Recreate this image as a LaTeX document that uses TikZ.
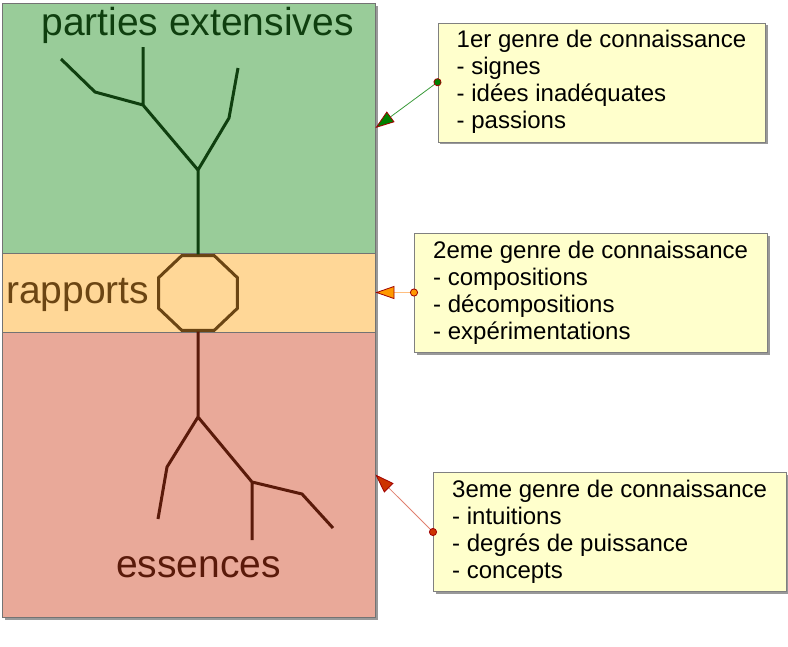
\documentclass[tikz,border=0pt]{standalone}
\usepackage{fontspec}
\setmainfont{Liberation Sans}
\usetikzlibrary{shapes,shadows,arrows.meta}

\definecolor{vertfond}{HTML}{99CC99}
\definecolor{vertfonce}{HTML}{0F3F0F}
\definecolor{orfond}{HTML}{FFD797}
\definecolor{brun}{HTML}{6B4513}
\definecolor{rougefond}{HTML}{E9A999}
\definecolor{rougefonce}{HTML}{5A1A0A}
\definecolor{notefond}{HTML}{FFFFCC}
\definecolor{pointe}{HTML}{A00000}
\definecolor{vertvif}{HTML}{008000}
\definecolor{vertfil}{HTML}{3A9A3A}
\definecolor{orvif}{HTML}{FF9900}
\definecolor{orfil}{HTML}{FFBF80}
\definecolor{rougevif}{HTML}{CC3300}
\definecolor{rougefil}{HTML}{E08070}

\begin{document}
\begin{tikzpicture}[x=1pt,y=-1pt]
\tikzstyle{ombre}=[drop shadow={shadow xshift=2.5pt, shadow yshift=-2.5pt, fill=black!40, opacity=1}]
\tikzstyle{zone}=[draw=black!55, line width=0.8pt, minimum width=373pt, inner sep=0pt, ombre]
\tikzstyle{titre}=[font=\fontsize{39}{44}\selectfont, inner sep=0pt, anchor=base]
\tikzstyle{branche}=[line width=3pt]
\tikzstyle{note}=[draw=black!50, fill=notefond, align=left, anchor=west, inner xsep=19pt, minimum height=119pt, font=\fontsize{24}{27}\selectfont, ombre]
\tikzstyle{renvoi}=[line width=0.8pt, shorten <=-4pt]

\useasboundingbox (0,0) rectangle (788,646);

\node[zone, fill=vertfond, minimum height=250pt] (ext) at (188.5,128) {};
\node[zone, fill=orfond, minimum height=79pt] (rap) at (188.5,292.5) {};
\node[zone, fill=rougefond, minimum height=285pt] (ess) at (188.5,474.5) {};

\node[regular polygon, regular polygon sides=8, minimum size=85pt, inner sep=0pt, yscale=0.95,
  draw=brun, line width=3pt, fill=orfond] (noeud) at (198,293) {};

\node[titre, text=vertfonce] (lext) at (197.5,35) {parties extensives};
\node[titre, text=brun, anchor=base west] (lrap) at (6,303) {rapports};
\node[titre, text=rougefonce] (less) at (198.5,577) {essences};

\coordinate (v0) at (198,170);
\coordinate (v1) at (143,105);
\coordinate (v1a) at (143,47);
\coordinate (v1b) at (95,92);
\coordinate (v1c) at (61,59);
\coordinate (v2) at (229,118);
\coordinate (v2a) at (238,68);
\draw[branche, draw=vertfonce] (noeud.north) -- (v0) -- (v1) -- (v1a)
  (v1) -- (v1b) -- (v1c) (v0) -- (v2) -- (v2a);

\coordinate (r0) at (198,417);
\coordinate (r1) at (167,467);
\coordinate (r1a) at (158,519);
\coordinate (r2) at (252,482);
\coordinate (r2a) at (252,540);
\coordinate (r2b) at (302,494);
\coordinate (r2c) at (333,528);
\draw[branche, draw=rougefonce] (noeud.south) -- (r0) -- (r1) -- (r1a)
  (r0) -- (r2) -- (r2a) (r2) -- (r2b) -- (r2c);

\node[note] (g1) at (437.5,82.2) {1er genre de connaissance\\- signes\\- idées inadéquates\\- passions};
\node[note] (g2) at (414,292.5) {2eme genre de connaissance\\- compositions\\- décompositions\\- expérimentations};
\node[note] (g3) at (433,532) {3eme genre de connaissance\\- intuitions\\- degrés de puissance\\- concepts};

\draw[renvoi, draw=vertfil, {Circle[length=8pt, color=pointe, fill=vertvif]}-{Triangle[length=19pt, width=13pt, color=pointe, fill=vertvif]}] (g1.west) -- (ext.east);
\draw[renvoi, draw=orfil, {Circle[length=8pt, color=pointe, fill=orvif]}-{Triangle[length=19pt, width=13pt, color=pointe, fill=orvif]}] (g2.west) -- (rap.east);
\draw[renvoi, draw=rougefil, {Circle[length=8pt, color=pointe, fill=rougevif]}-{Triangle[length=19pt, width=13pt, color=pointe, fill=rougevif]}] (g3.west) -- (ess.east);
\end{tikzpicture}
\end{document}
